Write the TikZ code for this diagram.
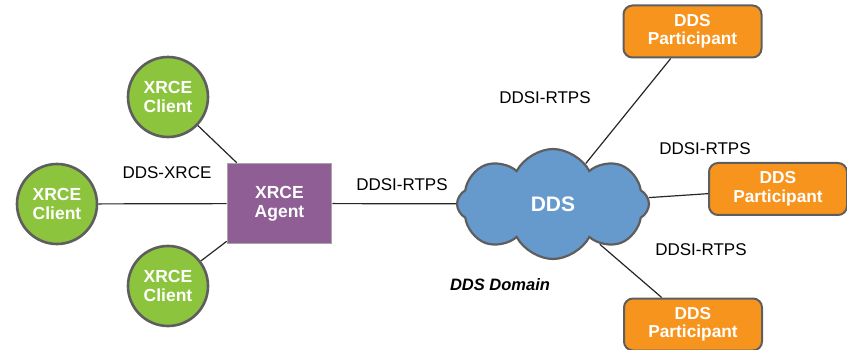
\documentclass[tikz,border=0pt]{standalone}
\usepackage{fontspec}
\setmainfont{Liberation Sans}
\usetikzlibrary{shapes.symbols,calc}
\definecolor{cgreen}{HTML}{8CC43E}
\definecolor{cpurple}{HTML}{8E5E95}
\definecolor{corange}{HTML}{F7941D}
\definecolor{cblue}{HTML}{6699CC}
\definecolor{cborder}{HTML}{5E5E5E}
\begin{document}
\begin{tikzpicture}[x=1pt,y=-1pt,
  client/.style={circle,fill=cgreen,draw=cborder,line width=2.6pt,minimum size=80pt,inner sep=0pt,
    text=white,font=\bfseries\fontsize{17.5}{19}\selectfont,align=center},
  agent/.style={rectangle,fill=cpurple,draw=gray!70,line width=1.6pt,minimum width=104pt,minimum height=80pt,
    text=white,font=\bfseries\fontsize{17.5}{19}\selectfont,align=center},
  participant/.style={rectangle,rounded corners=9pt,fill=corange,draw=cborder,line width=2pt,
    minimum width=138pt,minimum height=52pt,inner sep=0pt,
    text=white,font=\bfseries\fontsize{17.3}{18.5}\selectfont,align=center},
  lbl/.style={font=\fontsize{17}{19}\selectfont,text=black},
  conn/.style={line width=1.2pt,draw=black!85}]
\useasboundingbox (0,0) rectangle (847,350);
\node[client] (c1) at (168,97) {XRCE\\Client};
\node[client] (c2) at (57,204) {XRCE\\Client};
\node[client] (c3) at (168,286) {XRCE\\Client};
\node[agent] (ag) at (279.5,203.5) {XRCE\\Agent};
\node[cloud,cloud puffs=8,cloud puff arc=125,aspect=1.8,fill=cblue,draw=cborder,line width=2.2pt,
  minimum width=192pt,minimum height=110pt,inner sep=0pt,text=white,
  font=\bfseries\fontsize{21}{24}\selectfont] (dds) at (553,204) {DDS};
\node[participant] (p1) at (692.5,31.5) {DDS\\Participant};
\node[participant] (p2) at (778,189) {DDS\\Participant};
\node[participant] (p3) at (693,324.5) {DDS\\Participant};
\node[lbl] (l1) at (167,173) {DDS-XRCE};
\node[lbl] (l2) at (402,185) {DDSI-RTPS};
\node[lbl] (l3) at (545,98) {DDSI-RTPS};
\node[lbl] (l4) at (705,149) {DDSI-RTPS};
\node[lbl] (l5) at (701,250) {DDSI-RTPS};
\node[font=\bfseries\itshape\fontsize{16.5}{18}\selectfont] (dom) at (500,285) {DDS Domain};
\coordinate (agt) at ($(ag.north west)+(10,0)$);
\coordinate (agb) at ($(ag.south west)+(0,-3)$);
\draw[conn] (c2) -- (ag);
\draw[conn] (c1) -- (agt);
\draw[conn] (c3) -- (agb);
\draw[conn] (ag) -- (dds);
\draw[conn] (dds) -- (p1);
\draw[conn] (dds) -- (p2);
\draw[conn] (dds) -- (p3);
\end{tikzpicture}
\end{document}
